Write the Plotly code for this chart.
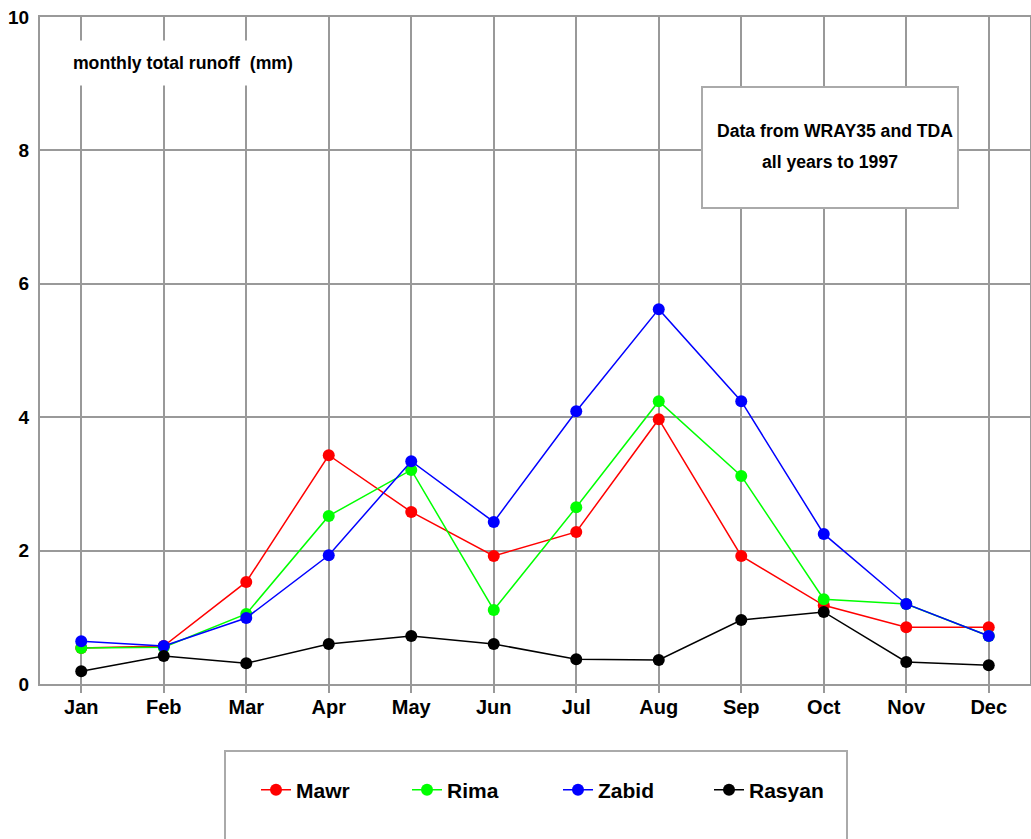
import plotly.graph_objects as go

months = ['Jan','Feb','Mar','Apr','May','Jun','Jul','Aug','Sep','Oct','Nov','Dec']
mawr   = [0.54,0.57,1.53,3.43,2.58,1.92,2.28,3.97,1.92,1.18,0.85,0.85]
rima   = [0.54,0.55,1.05,2.52,3.21,1.11,2.65,4.24,3.12,1.27,1.20,0.72]
zabid  = [0.64,0.57,0.99,1.93,3.34,2.43,4.09,5.62,4.24,2.25,1.20,0.72]
rasyan = [0.19,0.42,0.31,0.60,0.72,0.60,0.37,0.36,0.96,1.08,0.33,0.28]

series = [('Mawr',mawr,'#ff0000'),('Rima',rima,'#00ff00'),
          ('Zabid',zabid,'#0000ff'),('Rasyan',rasyan,'#000000')]

grid = '#999999'
L, T, B = 40, 17, 155
PW, PH = 990, 667

def px(x):
    return (x - L) / PW

def py(y):
    return (T + PH - y) / PH

fig = go.Figure()
for name, vals, col in series:
    fig.add_trace(go.Scatter(x=list(range(12)), y=vals, name=name,
        mode='lines+markers', line=dict(color=col, width=1.5),
        marker=dict(color=col, size=12)))

fig.update_layout(
    width=1031, height=839,
    margin=dict(l=L, r=1, t=T, b=B, autoexpand=False),
    paper_bgcolor='white', plot_bgcolor='white',
    font=dict(family='Liberation Sans, Arial, sans-serif', color='black'),
    xaxis=dict(range=[-0.5,11.5], tickvals=list(range(12)), ticktext=months,
               showgrid=True, gridcolor=grid, gridwidth=2,
               showline=True, linecolor=grid, linewidth=2, mirror=True,
               ticks='outside', ticklen=7, tickcolor=grid, tickwidth=2,
               ticklabelstandoff=-3,
               tickfont=dict(size=20, weight='bold'), zeroline=False),
    yaxis=dict(range=[0,10], tickvals=[0,2,4,6,8,10],
               showgrid=True, gridcolor=grid, gridwidth=2,
               showline=True, linecolor=grid, linewidth=2, mirror=True,
               ticks='', ticklabelstandoff=5,
               tickfont=dict(size=19, weight='bold'), zeroline=False),
    showlegend=True,
    legend=dict(orientation='h', x=px(256), xanchor='left', y=py(790), yanchor='middle',
                font=dict(size=21, weight='bold'), bgcolor='rgba(0,0,0,0)',
                entrywidthmode='pixels', entrywidth=106),
)

# legend frame
fig.add_shape(type='rect', xref='paper', yref='paper',
              x0=px(225), x1=px(847), y0=py(751), y1=py(850),
              line=dict(color='#aaaaaa', width=2), fillcolor='rgba(0,0,0,0)')
# data source box
fig.add_shape(type='rect', xref='paper', yref='paper', layer='above',
              x0=px(702), x1=px(958), y0=py(87), y1=py(208),
              line=dict(color='#aaaaaa', width=2), fillcolor='white')
fig.add_annotation(xref='paper', yref='paper', x=px(835), y=py(131),
                   xanchor='center', yanchor='middle',
                   text='Data from WRAY35 and TDA', showarrow=False,
                   font=dict(size=17.6, weight='bold'))
fig.add_annotation(xref='paper', yref='paper', x=px(830), y=py(162),
                   xanchor='center', yanchor='middle',
                   text='all years to 1997', showarrow=False,
                   font=dict(size=17.6, weight='bold'))
fig.add_annotation(xref='paper', yref='paper', x=px(183), y=py(63),
                   xanchor='center', yanchor='middle',
                   text='monthly total runoff  (mm)', showarrow=False,
                   bgcolor='white', width=228, height=42,
                   font=dict(size=17.7, weight='bold'))

# drop the default 8px page margin so the figure fills the window
fig.write_html('out.html', config={'displayModeBar': False},
               post_script="document.body.style.margin='0';")
